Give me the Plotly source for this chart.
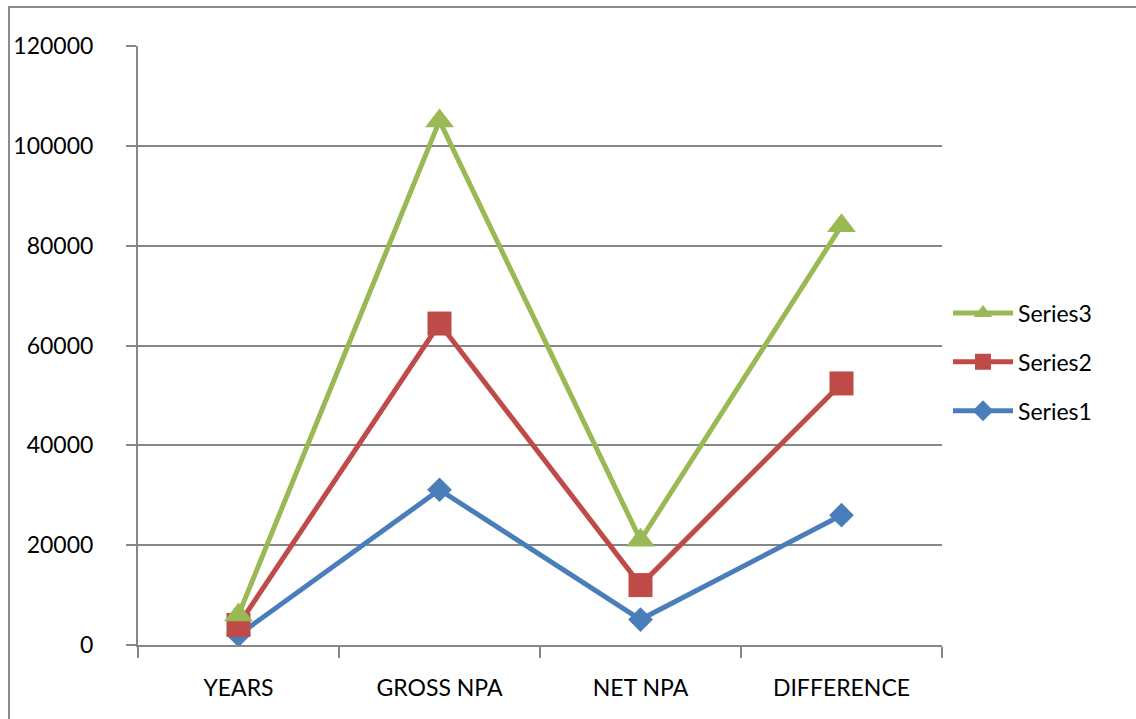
import plotly.graph_objects as go

# Categories on the x axis
categories = ["YEARS", "GROSS NPA", "NET NPA", "DIFFERENCE"]

# Series values (stacked on top of each other in the chart)
series1 = [2008, 31100, 5100, 26000]
series2 = [2009, 33300, 6900, 26400]
series3 = [2010, 40600, 9000, 31600]

series_names = ["Series1", "Series2", "Series3"]
series_values = [series1, series2, series3]
series_colors = ["#4A7EBB", "#BE4B48", "#98B954"]
series_symbols = ["diamond", "square", "triangle-up"]
series_sizes = [19, 24, 25]
legend_ranks = [3, 2, 1]  # Series3 listed first

y_ticks = [0, 20000, 40000, 60000, 80000, 100000, 120000]

FONT = "Lato, 'Open Sans', 'DejaVu Sans', sans-serif"
GRID = "#868686"

fig = go.Figure()
for name, vals, color, sym, size, rank in zip(series_names, series_values,
                                              series_colors, series_symbols,
                                              series_sizes, legend_ranks):
    fig.add_trace(go.Scatter(
        x=categories, y=vals, name=name,
        stackgroup="one", fill="none",
        mode="lines+markers",
        line=dict(color=color, width=5),
        marker=dict(symbol=sym, size=size, color=color, line=dict(width=0)),
        legendgroup=name, legendrank=rank,
    ))

W, H = 1136, 719
L, R, T, B = 138, 194, 46, 74
pw, ph = W - L - R, H - T - B

# Outer chart frame
fig.add_shape(type="rect", xref="paper", yref="paper",
              x0=(9 - L) / pw, x1=1.3, y0=-0.3, y1=1 + (T - 7) / ph,
              line=dict(color="#8C8C8C", width=2), fillcolor="rgba(0,0,0,0)",
              layer="below")

fig.update_layout(
    width=W, height=H,
    margin=dict(l=L, r=R, t=T, b=B),
    paper_bgcolor="white", plot_bgcolor="white",
    font=dict(family=FONT, size=23, color="black"),
    showlegend=True,
    legend=dict(
        x=(948 - L) / pw, xanchor="left",
        y=(645 - 362) / ph, yanchor="middle",
        traceorder="grouped",
        tracegroupgap=16,
        itemwidth=60,
        font=dict(family=FONT, size=23, color="black"),
        bgcolor="rgba(0,0,0,0)",
    ),
    xaxis=dict(
        type="category", range=[-0.5, 3.5],
        showgrid=False, showline=True, linecolor=GRID, linewidth=2,
        ticks="outside", tickson="boundaries", ticklen=11, tickwidth=2,
        tickcolor=GRID, ticklabelstandoff=21,
        tickfont=dict(family=FONT, size=23, color="black"),
        zeroline=False,
    ),
    yaxis=dict(
        range=[0, 120000], tickvals=y_ticks,
        ticktext=[str(v) for v in y_ticks],
        showgrid=True, gridcolor=GRID, gridwidth=2,
        showline=True, linecolor=GRID, linewidth=2,
        ticks="outside", ticklen=10, tickwidth=2, tickcolor=GRID,
        ticklabelstandoff=28,
        tickfont=dict(family=FONT, size=23, color="black"),
        zeroline=False,
    ),
)

fig.write_html("out.html")
